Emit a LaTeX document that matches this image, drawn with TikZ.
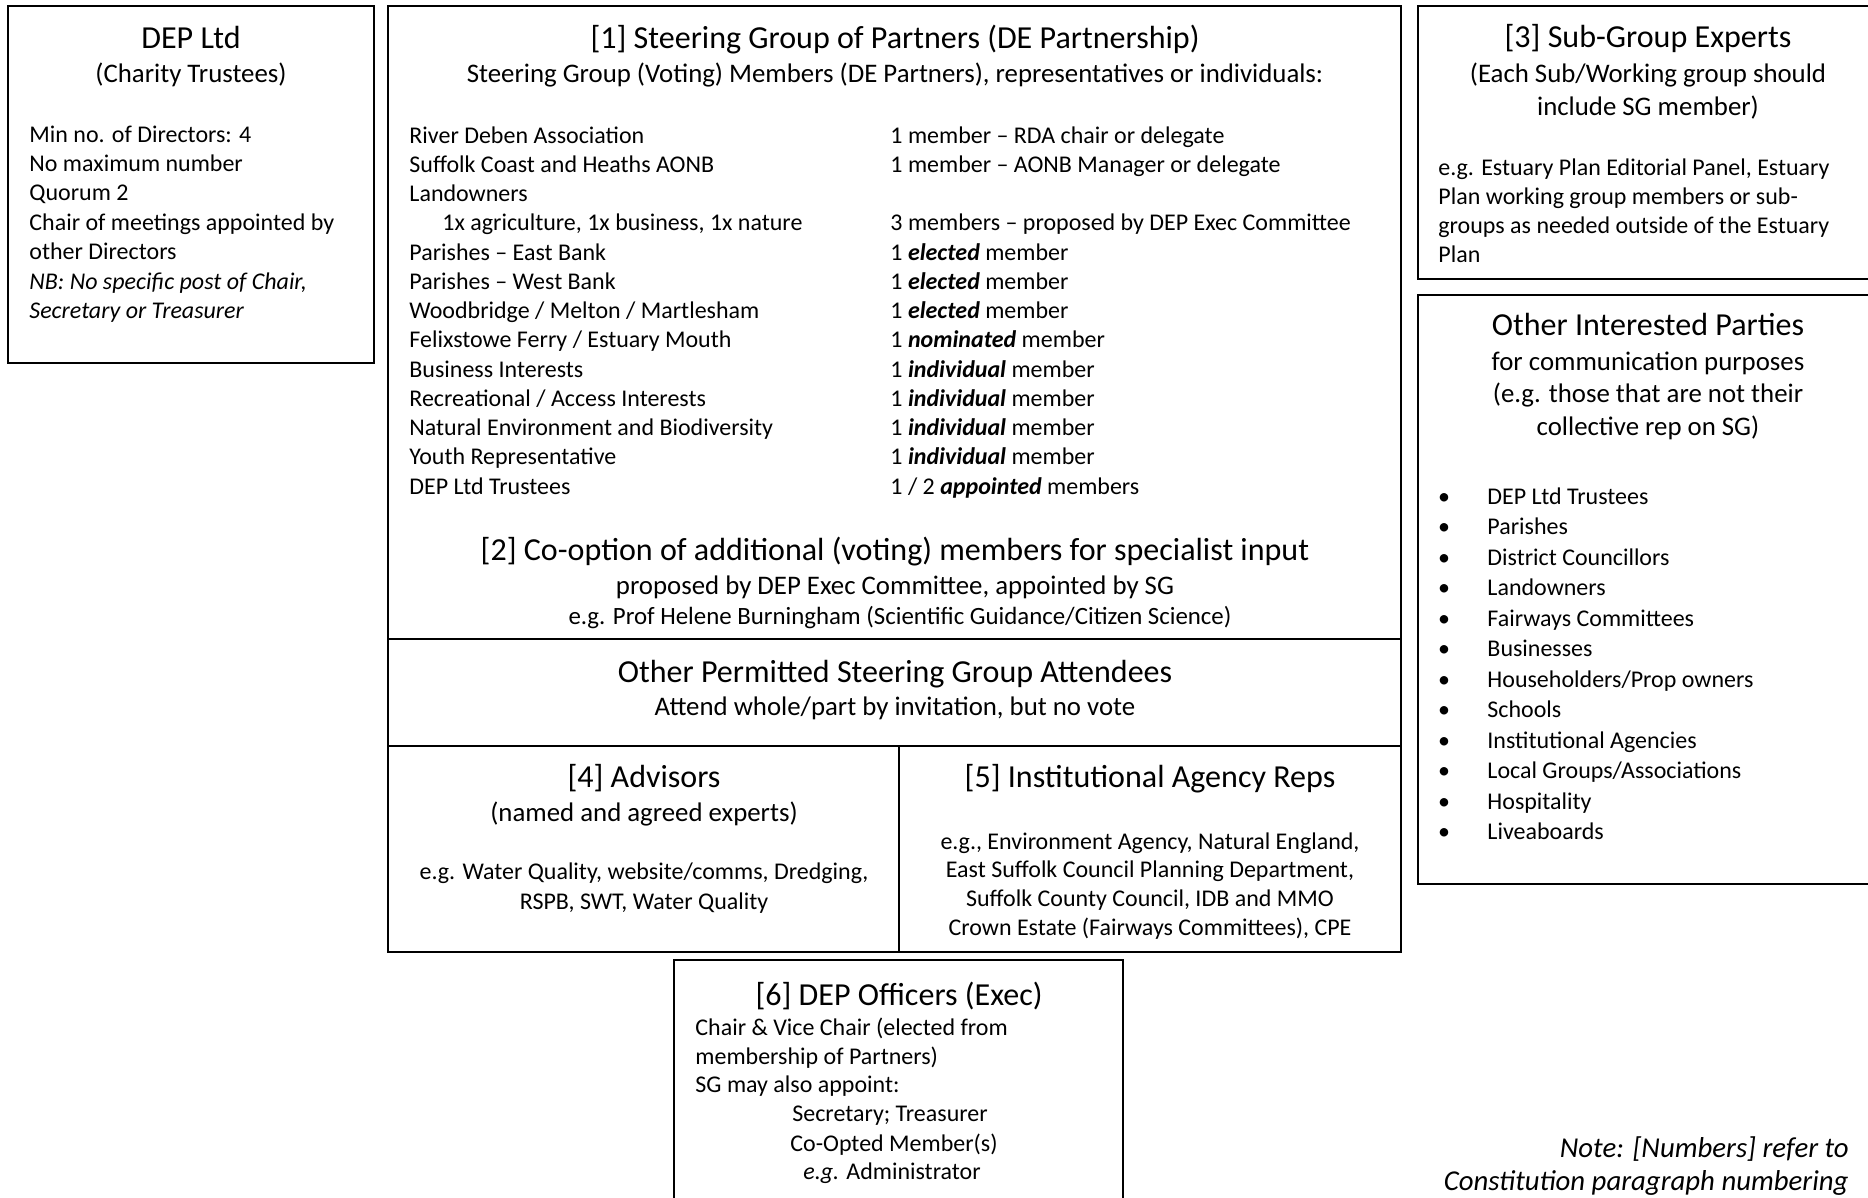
\documentclass[tikz,border=0pt]{standalone}
\usepackage{fontspec}
\setmainfont{Carlito}

\newcommand{\kw}[1]{\textbf{\textit{#1}}}

\tikzset{
  box/.style={draw,line width=1.3pt},
  headtext/.style={font=\fontsize{14.7}{17.5}\selectfont,anchor=base,inner sep=0pt},
  subtext/.style={font=\fontsize{12.3}{15}\selectfont,anchor=base,inner sep=0pt},
  midtext/.style={font=\fontsize{11}{13.4}\selectfont,anchor=base,inner sep=0pt},
  bodytext/.style={font=\fontsize{11}{13.4}\selectfont,anchor=base west,inner sep=0pt},
  notetext/.style={font=\fontsize{13.2}{15.6}\selectfont\itshape,anchor=base east,inner sep=0pt},
}

\begin{document}
\begin{tikzpicture}[x=0.4587pt,y=-0.4587pt]
  \useasboundingbox (0,0) rectangle (1868,1197);
  \clip (0,0) rectangle (1868,1197);

  % frames
  \draw[box] (8,6) rectangle (374,363);
  \draw[box] (388,6) rectangle (1401,952);
  \draw[box] (388,639) -- (1401,639);
  \draw[box] (388,746) -- (1401,746);
  \draw[box] (899,746) -- (899,952);
  \draw[box] (1418,6) rectangle (1885,279);
  \draw[box] (1418,295) rectangle (1885,884);
  \draw[box] (674,960) rectangle (1123,1215);

  % DEP Ltd
  \node[headtext] (ltd) at (191,48) {DEP Ltd};
  \node[subtext] (ltdsub) at (191,82) {(Charity Trustees)};
  \foreach \txt [count=\i from 0] in {Min no. of Directors: 4, No maximum number, Quorum 2,
      Chair of meetings appointed by, other Directors,
      \textit{NB: No specific post of Chair,}, \textit{Secretary or Treasurer}}
    \node[bodytext] (ltd-\i) at (29,142+29.4*\i) {\txt};

  % [1] steering group
  \node[headtext] (sg) at (895,48) {[1] Steering Group of Partners (DE Partnership)};
  \node[subtext] (sgsub) at (895,82) {Steering Group (Voting) Members (DE Partners), representatives or individuals:};
  \foreach \row/\who in {0/River Deben Association, 1/Suffolk Coast and Heaths AONB,
      2/Landowners, 4/Parishes – East Bank, 5/Parishes – West Bank,
      6/{Woodbridge / Melton / Martlesham}, 7/{Felixstowe Ferry / Estuary Mouth},
      8/Business Interests, 9/{Recreational / Access Interests},
      10/Natural Environment and Biodiversity, 11/Youth Representative, 12/DEP Ltd Trustees}
    \node[bodytext] (who-\row) at (409,143+29.25*\row) {\who};
  \node[bodytext] (who-3) at (442,143+29.25*3) {1x agriculture, 1x business, 1x nature};
  \foreach \row/\what in {0/1 member – RDA chair or delegate,
      1/1 member – AONB Manager or delegate,
      3/3 members – proposed by DEP Exec Committee,
      4/1 \kw{elected} member, 5/1 \kw{elected} member, 6/1 \kw{elected} member,
      7/1 \kw{nominated} member, 8/1 \kw{individual} member, 9/1 \kw{individual} member,
      10/1 \kw{individual} member, 11/1 \kw{individual} member,
      12/{1 / 2 \kw{appointed} members}}
    \node[bodytext] (what-\row) at (890,143+29.25*\row) {\what};

  % [2] co-option
  \node[headtext] (coopt) at (895,560) {[2] Co-option of additional (voting) members for specialist input};
  \node[subtext] (coopt-a) at (895,594) {proposed by DEP Exec Committee, appointed by SG};
  \node[midtext,font=\fontsize{11.4}{13.8}\selectfont] (coopt-b) at (900,624) {e.g. Prof Helene Burningham (Scientific Guidance/Citizen Science)};

  % attendees
  \node[headtext] (att) at (895,682) {Other Permitted Steering Group Attendees};
  \node[subtext] (attsub) at (895,715) {Attend whole/part by invitation, but no vote};

  % [4] advisors
  \node[headtext] (adv) at (644,787) {[4] Advisors};
  \node[subtext] (advsub) at (644,821) {(named and agreed experts)};
  \node[midtext] (adv-1) at (644,879) {e.g. Water Quality, website/comms, Dredging,};
  \node[midtext] (adv-2) at (644,909) {RSPB, SWT, Water Quality};

  % [5] agencies
  \node[headtext] (agc) at (1150,787) {[5] Institutional Agency Reps};
  \foreach \txt [count=\i from 0] in {{e.g., Environment Agency, Natural England,},
      {East Suffolk Council Planning Department,}, {Suffolk County Council, IDB and MMO},
      {Crown Estate (Fairways Committees), CPE}}
    \node[midtext] (agc-\i) at (1150,849+28.7*\i) {\txt};

  % [3] sub-groups
  \node[headtext] (sub) at (1648,47) {[3] Sub-Group Experts};
  \node[subtext] (sub-a) at (1648,82) {(Each Sub/Working group should};
  \node[subtext] (sub-b) at (1648,115) {include SG member)};
  \foreach \txt [count=\i from 0] in {{e.g. Estuary Plan Editorial Panel, Estuary},
      Plan working group members or sub-, groups as needed outside of the Estuary, Plan}
    \node[bodytext] (sub-\i) at (1438,175+29.2*\i) {\txt};

  % other interested parties
  \node[headtext] (oip) at (1648,335) {Other Interested Parties};
  \node[subtext] (oip-a) at (1648,370) {for communication purposes};
  \node[subtext] (oip-b) at (1648,402) {(e.g. those that are not their};
  \node[subtext] (oip-c) at (1648,435) {collective rep on SG)};
  \foreach \party [count=\i from 0] in {DEP Ltd Trustees, Parishes, District Councillors,
      Landowners, Fairways Committees, Businesses, Householders/Prop owners, Schools,
      Institutional Agencies, Local Groups/Associations, Hospitality, Liveaboards}
  {
    \node[midtext] (dot-\i) at (1444,504+30.5*\i) {•};
    \node[bodytext] (party-\i) at (1487,504+30.5*\i) {\party};
  }

  % [6] officers
  \node[headtext] (off) at (899,1005) {[6] DEP Officers (Exec)};
  \node[bodytext] (off-1) at (695,1035) {Chair \& Vice Chair (elected from};
  \node[bodytext] (off-2) at (695,1064) {membership of Partners)};
  \node[bodytext] (off-3) at (695,1092) {SG may also appoint:};
  \node[midtext] (off-4) at (890,1121) {Secretary; Treasurer};
  \node[midtext] (off-5) at (894,1151) {Co-Opted Member(s)};
  \node[midtext] (off-6) at (892,1179) {\textit{e.g.} Administrator};

  % note
  \node[notetext] (note-1) at (1849,1157) {Note: [Numbers] refer to};
  \node[notetext] (note-2) at (1849,1190) {Constitution paragraph numbering};
\end{tikzpicture}
\end{document}
